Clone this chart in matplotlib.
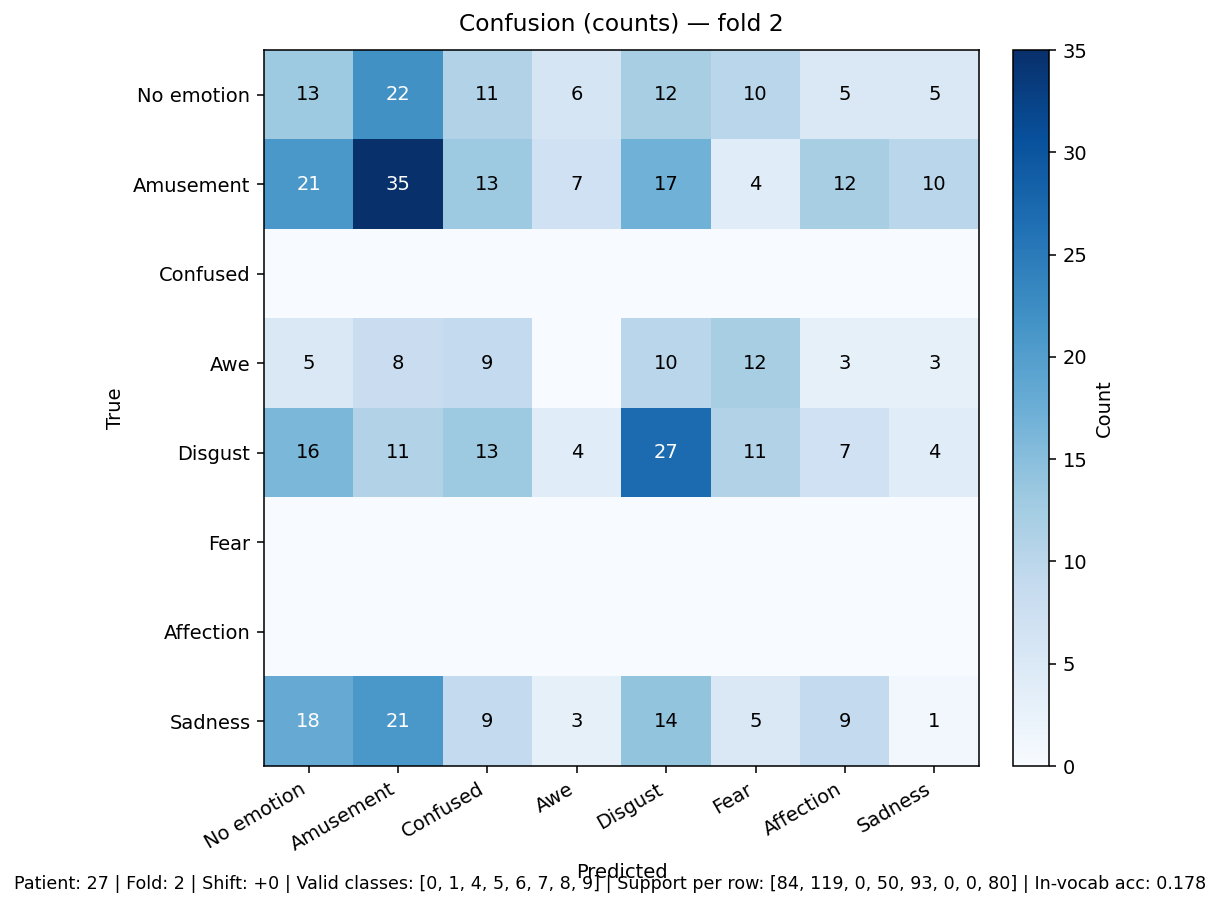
import numpy as np
import matplotlib
matplotlib.use("Agg")
import matplotlib.pyplot as plt

classes = ["No emotion", "Amusement", "Confused", "Awe", "Disgust", "Fear", "Affection", "Sadness"]

row_no_emotion = [13, 22, 11, 6, 12, 10, 5, 5]
row_amusement = [21, 35, 13, 7, 17, 4, 12, 10]
row_confused = [0, 0, 0, 0, 0, 0, 0, 0]
row_awe = [5, 8, 9, 0, 10, 12, 3, 3]
row_disgust = [16, 11, 13, 4, 27, 11, 7, 4]
row_fear = [0, 0, 0, 0, 0, 0, 0, 0]
row_affection = [0, 0, 0, 0, 0, 0, 0, 0]
row_sadness = [18, 21, 9, 3, 14, 5, 9, 1]

cm = np.array([row_no_emotion, row_amusement, row_confused, row_awe,
               row_disgust, row_fear, row_affection, row_sadness])

footer = ("Patient: 27 | Fold: 2 | Shift: +0 | Valid classes: [0, 1, 4, 5, 6, 7, 8, 9] | "
          "Support per row: [84, 119, 0, 50, 93, 0, 0, 80] | In-vocab acc: 0.178")

DPI = 140
fig = plt.figure(figsize=(1220 / DPI, 908 / DPI), dpi=DPI)
ax = fig.add_axes([264 / 1220, 1 - 766 / 908, 715 / 1220, 716 / 908])
cax = fig.add_axes([1013 / 1220, 1 - 766 / 908, 36 / 1220, 716 / 908])

im = ax.imshow(cm, cmap="Blues", vmin=0, vmax=cm.max(), aspect="auto")
cb = fig.colorbar(im, cax=cax)
cb.set_label("Count")

ax.set_xticks(range(len(classes)))
ax.set_yticks(range(len(classes)))
ax.set_xticklabels(classes, rotation=30, ha="right")
ax.set_yticklabels(classes)
ax.set_xlabel("Predicted")
ax.set_ylabel("True")
ax.set_title("Confusion (counts) — fold 2", pad=10)

thresh = cm.max() / 2
for i in range(cm.shape[0]):
    for j in range(cm.shape[1]):
        v = cm[i, j]
        if v > 0:
            ax.text(j, i, str(v), ha="center", va="center",
                    color="white" if v > thresh else "black", fontsize=10)

fig.text(0.5, 1 - 884 / 908, footer, ha="center", va="center", fontsize=9)

fig.savefig("out.png", dpi=DPI)
